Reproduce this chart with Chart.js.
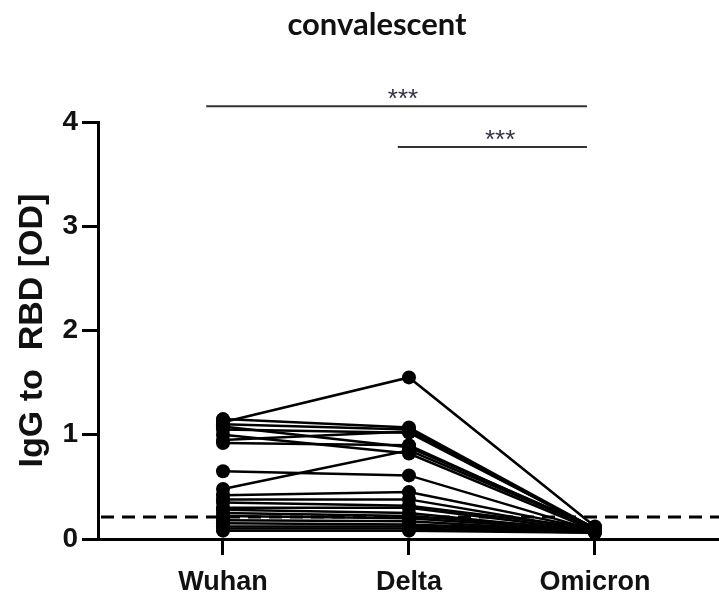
<!DOCTYPE html>
<html>
<head>
<meta charset="utf-8">
<script src="https://cdn.jsdelivr.net/npm/chart.js@4/dist/chart.umd.min.js"></script>
<style>
html,body{margin:0;padding:0;background:#fff;}
#wrap{width:719px;height:594px;}
</style>
</head>
<body>
<div id="wrap"><canvas id="c" width="719" height="594"></canvas></div>
<script>
const chartTitle = 'convalescent';
const yAxisTitle = 'IgG to  RBD [OD]';
const categories = ['Wuhan', 'Delta', 'Omicron'];
const yTicks = [0, 1, 2, 3, 4];
// paired values per subject
const wuhan   = [1.12, 1.15, 1.10, 1.08, 1.05, 1.00, 0.95, 0.92, 0.65, 0.48, 0.42, 0.38, 0.35, 0.30, 0.28, 0.25, 0.22, 0.18, 0.15, 0.12, 0.10, 0.08];
const delta   = [1.55, 1.07, 1.05, 0.88, 1.02, 0.82, 1.03, 0.90, 0.61, 0.85, 0.45, 0.38, 0.32, 0.30, 0.25, 0.22, 0.20, 0.17, 0.14, 0.12, 0.10, 0.08];
const omicron = [0.12, 0.10, 0.09, 0.11, 0.10, 0.08, 0.10, 0.09, 0.08, 0.10, 0.09, 0.08, 0.10, 0.08, 0.07, 0.09, 0.08, 0.07, 0.08, 0.07, 0.06, 0.06];
const cutoff = 0.21;
const comparisons = [
  {from: 0, to: 2, label: '***'},
  {from: 1, to: 2, label: '***'}
];

// ---- presentation settings ----
const bracketLevels = [4.15, 3.76];
const bracketX = [[-0.09, 1.957, 0.968], [0.94, 1.957, 1.49]];

const datasets = wuhan.map((w, i) => ({
  data: [{x: 0, y: w}, {x: 1, y: delta[i]}, {x: 2, y: omicron[i]}],
  borderColor: '#000',
  backgroundColor: '#000',
  borderWidth: 2.5,
  pointRadius: 7,
  pointHoverRadius: 7,
  pointBorderWidth: 0,
  showLine: true,
  tension: 0
}));

const extras = {
  id: 'extras',
  beforeDatasetsDraw(chart) {
    const {ctx, chartArea: a, scales: {y}} = chart;
    const py = y.getPixelForValue(cutoff);
    ctx.save();
    ctx.strokeStyle = '#000';
    ctx.lineWidth = 3;
    ctx.setLineDash([13, 8]);
    ctx.beginPath();
    ctx.moveTo(a.left + 3, py);
    ctx.lineTo(a.right, py);
    ctx.stroke();
    ctx.restore();
  },
  afterDraw(chart) {
    const {ctx, scales: {x, y}} = chart;
    ctx.save();
    ctx.fillStyle = '#111';
    ctx.font = 'bold 31px Lato, "Open Sans", sans-serif';
    ctx.textAlign = 'center';
    ctx.textBaseline = 'middle';
    ctx.fillText(chartTitle, 377, 25);
    comparisons.forEach((c, i) => {
      const py = y.getPixelForValue(bracketLevels[i]);
      const [x0, x1, xl] = bracketX[i];
      ctx.strokeStyle = '#333';
      ctx.lineWidth = 2;
      ctx.beginPath();
      ctx.moveTo(x.getPixelForValue(x0), py);
      ctx.lineTo(x.getPixelForValue(x1), py);
      ctx.stroke();
      ctx.fillStyle = '#334';
      ctx.font = '26px "Liberation Sans", Arial, sans-serif';
      ctx.textBaseline = 'alphabetic';
      ctx.fillText(c.label, x.getPixelForValue(xl), py + 1);
    });
    ctx.restore();
  }
};

new Chart(document.getElementById('c'), {
  type: 'scatter',
  data: {datasets},
  plugins: [extras],
  options: {
    responsive: false,
    animation: false,
    layout: {autoPadding: false, padding: {top: 122, right: 0, left: 0, bottom: 0}},
    plugins: {legend: {display: false}, tooltip: {enabled: false}, title: {display: false}},
    scales: {
      x: {
        type: 'linear',
        min: -0.672,
        max: 2.667,
        afterFit: s => { s.height = 55; },
        afterBuildTicks: s => { s.ticks = categories.map((_, i) => ({value: i})); },
        ticks: {
          callback: v => categories[v] ?? '',
          color: '#111',
          font: {family: '"Liberation Sans", Arial, sans-serif', size: 27, weight: 'bold'},
          padding: 11,
          maxRotation: 0,
          autoSkip: false
        },
        grid: {drawOnChartArea: false, drawTicks: true, tickLength: 16, tickWidth: 3, color: '#000'},
        border: {display: true, color: '#000', width: 3}
      },
      y: {
        min: 0,
        max: 4,
        afterFit: s => { s.width = 98; },
        afterBuildTicks: s => { s.ticks = yTicks.map(v => ({value: v})); },
        ticks: {
          color: '#111',
          font: {family: '"Liberation Sans", Arial, sans-serif', size: 28, weight: 'bold'},
          padding: 4
        },
        grid: {drawOnChartArea: false, drawTicks: true, tickLength: 16, tickWidth: 3, color: '#000'},
        border: {display: true, color: '#000', width: 3},
        title: {
          display: true,
          text: yAxisTitle,
          color: '#111',
          font: {family: '"Liberation Sans", Arial, sans-serif', size: 34, weight: 'bold'},
          padding: {top: 12, bottom: 0}
        }
      }
    }
  }
});
</script>
</body>
</html>
